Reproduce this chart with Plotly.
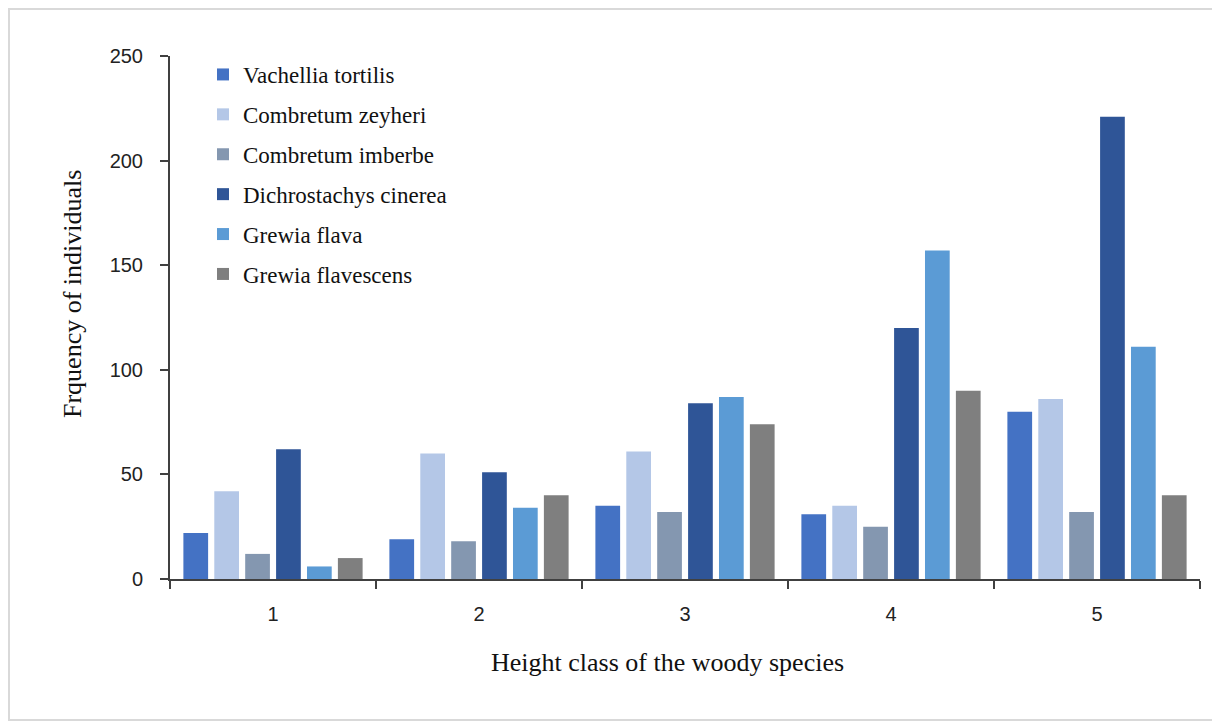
import plotly.graph_objects as go

categories = ["1", "2", "3", "4", "5"]
species = ["Vachellia tortilis", "Combretum zeyheri", "Combretum imberbe",
           "Dichrostachys cinerea", "Grewia flava", "Grewia flavescens"]
vachellia = [22, 19, 35, 31, 80]
zeyheri = [42, 60, 61, 35, 86]
imberbe = [12, 18, 32, 25, 32]
dichrostachys = [62, 51, 84, 120, 221]
grewia_flava = [6, 34, 87, 157, 111]
grewia_flavescens = [10, 40, 74, 90, 40]
y_ticks = [0, 50, 100, 150, 200, 250]

series = [vachellia, zeyheri, imberbe, dichrostachys, grewia_flava, grewia_flavescens]
colors = ["#4472C4", "#B4C7E7", "#8497B0", "#2F5597", "#5B9BD5", "#7F7F7F"]

# page has an 8px body margin: figure coords = page coords - 8
OFF = 8
W, H = 1220 - OFF, 727 - OFF
ml, mr, mt, mb = 170 - OFF, 20, 56 - OFF, 148
pw, ph = W - ml - mr, H - mt - mb

def px(x):  # page x -> paper
    return (x - OFF - ml) / pw

def py(y):  # page y -> paper
    return (H - mb - (y - OFF)) / ph

fig = go.Figure()
for name, vals, c in zip(species, series, colors):
    fig.add_trace(go.Bar(x=categories, y=vals, name=name, marker_color=c,
                         marker_line_width=0, legendgroup=name))

serif = "Liberation Serif"
sans = "Liberation Sans"
fig.update_layout(
    width=W, height=H,
    margin=dict(l=ml, r=mr, t=mt, b=mb),
    paper_bgcolor="white", plot_bgcolor="white",
    barmode="group", bargap=0.1, bargroupgap=0.2,
    showlegend=True,
    legend=dict(x=px(203), y=py(53), xanchor="left", yanchor="top",
                font=dict(family=serif, size=23, color="#111"),
                traceorder="grouped", tracegroupgap=7,
                bgcolor="rgba(0,0,0,0)", itemwidth=30),
    xaxis=dict(showline=True, linecolor="#404040", linewidth=2,
               ticks="outside", tickson="boundaries", ticklen=8, tickwidth=2,
               tickcolor="#404040", ticklabelstandoff=16,
               tickfont=dict(family=sans, size=20, color="#222"),
               showgrid=False, zeroline=False),
    yaxis=dict(range=[0, 250], tickvals=y_ticks, showline=True,
               linecolor="#404040", linewidth=2, ticks="outside", ticklen=8,
               tickwidth=2, tickcolor="#404040", ticklabelstandoff=13,
               tickfont=dict(family=sans, size=20, color="#222"),
               showgrid=False, zeroline=False),
    annotations=[
        dict(text="Height class of the woody species", xref="paper", yref="paper",
             x=px(667), y=py(662), xanchor="center", yanchor="middle",
             showarrow=False, font=dict(family=serif, size=26, color="#111")),
        dict(text="Frquency of individuals", xref="paper", yref="paper",
             x=px(72), y=py(294), xanchor="center", yanchor="middle",
             showarrow=False, textangle=-90,
             font=dict(family=serif, size=26, color="#111")),
    ],
    shapes=[dict(type="rect", xref="paper", yref="paper",
                 x0=px(9), x1=px(1240), y0=py(720), y1=py(9),
                 line=dict(color="#D9D9D9", width=2), layer="below")],
)

fig.write_html("out.html")
